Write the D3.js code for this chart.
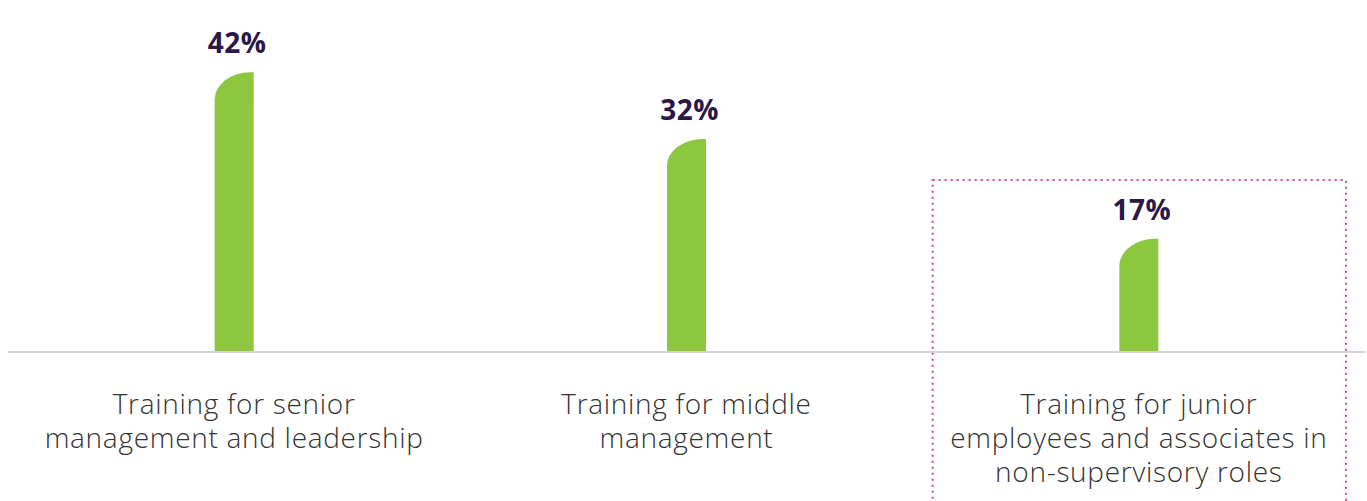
<!DOCTYPE html>
<html lang="en">
<head>
  <meta charset="UTF-8">
  <title>Training levels</title>
  <script src="https://d3js.org/d3.v7.min.js"></script>
  <style>
    body {
      margin: 0;
      background: #fff;
      font-family: "Open Sans", "DejaVu Sans", sans-serif;
    }
    .cat-label {
      font-size: 28px;
      font-weight: 300;
      letter-spacing: 0.7px;
      fill: #333;
    }
    .value-label {
      font-size: 28px;
      font-weight: 700;
      letter-spacing: 0.5px;
      fill: #2b1748;
    }
  </style>
</head>
<body>
<div id="chart"></div>

<script>
  // data
  const categories = ["senior", "middle", "junior"];
  const values = [42, 32, 17];
  const categoryLines = [
    ["Training for senior", "management and leadership"],
    ["Training for middle", "management"],
    ["Training for junior", "employees and associates in", "non-supervisory roles"]
  ];
  const highlighted = "junior";

  const W = 1367, H = 501;
  const baseY = 352;

  const svg = d3.select("#chart")
    .append("svg")
    .attr("width", W)
    .attr("height", H);

  const x = d3.scaleBand()
    .domain(categories)
    .range([8, 1365]);

  const y = d3.scaleLinear()
    .domain([0, 50])
    .range([baseY, 19]);

  const barW = 39;

  // bar with rounded top-left corner
  function barPath(cat, v) {
    const x0 = x(cat) + x.bandwidth() / 2 - barW / 2;
    const x1 = x0 + barW;
    const top = y(v);
    const rx = barW - 3, ry = 27;
    return `M${x0},${baseY} L${x0},${top + ry} A${rx},${ry} 0 0 1 ${x0 + rx},${top} L${x1},${top} L${x1},${baseY} Z`;
  }

  // dotted highlight box
  svg.append("rect")
    .attr("x", x(highlighted) + 20)
    .attr("y", 180)
    .attr("width", x.bandwidth() - 39)
    .attr("height", 400)
    .attr("fill", "none")
    .attr("stroke", "#d9439c")
    .attr("stroke-width", 2)
    .attr("stroke-dasharray", "2,4");

  svg.selectAll("path.bar")
    .data(categories)
    .enter()
    .append("path")
    .attr("class", "bar")
    .attr("d", (c, i) => barPath(c, values[i]))
    .attr("fill", "#8dc63f");

  // baseline
  svg.append("line")
    .attr("x1", 8)
    .attr("x2", 1365)
    .attr("y1", baseY)
    .attr("y2", baseY)
    .attr("stroke", "#d4d4d4")
    .attr("stroke-width", 2);

  // value labels
  svg.selectAll("text.value-label")
    .data(categories)
    .enter()
    .append("text")
    .attr("class", "value-label")
    .attr("x", c => x(c) + x.bandwidth() / 2 + 3)
    .attr("y", (c, i) => y(values[i]) - 19)
    .attr("text-anchor", "middle")
    .text((c, i) => values[i] + "%");

  // category labels
  const cats = svg.selectAll("text.cat-label")
    .data(categories)
    .enter()
    .append("text")
    .attr("class", "cat-label")
    .attr("text-anchor", "middle");

  cats.each(function(c, i) {
    const t = d3.select(this);
    categoryLines[i].forEach((line, j) => {
      t.append("tspan")
        .attr("x", x(c) + x.bandwidth() / 2)
        .attr("y", 414 + j * 34)
        .text(line);
    });
  });
</script>
</body>
</html>
